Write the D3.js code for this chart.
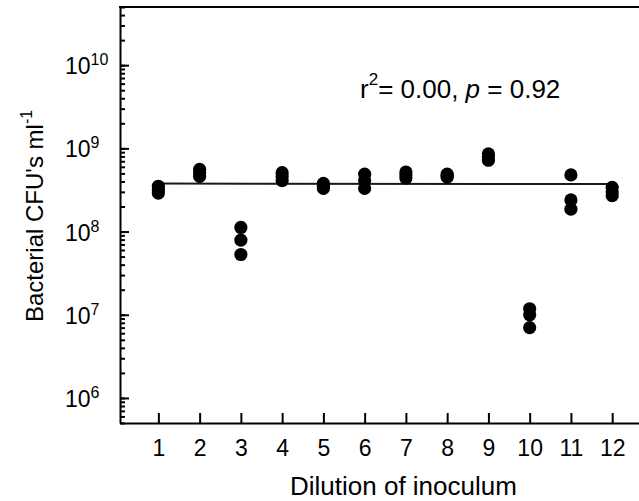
<!DOCTYPE html>
<html>
<head>
<meta charset="utf-8">
<script src="https://cdn.jsdelivr.net/npm/d3@7"></script>
<style>
	body { margin: 0; background: #fff; }
	text { font-family: "Liberation Sans", Arial, sans-serif; fill: #000; }
</style>
</head>
<body>
<div id="chart"></div>
<script>
'use strict';

// dilution steps on the x axis
const dilution = [1, 2, 3, 4, 5, 6, 7, 8, 9, 10, 11, 12];

// three replicate plate counts per dilution (CFU per ml)
const cfu_a = [3.5e8, 5.6e8, 1.12e8, 5.1e8, 3.8e8, 4.9e8, 5.2e8, 4.9e8, 8.6e8, 1.18e7, 4.8e8, 3.4e8];
const cfu_b = [3.2e8, 5.1e8, 7.9e7, 4.6e8, 3.5e8, 4.1e8, 4.8e8, 4.7e8, 7.9e8, 1.0e7, 2.4e8, 3.0e8];
const cfu_c = [2.9e8, 4.6e8, 5.3e7, 4.1e8, 3.3e8, 3.3e8, 4.4e8, 4.5e8, 7.2e8, 7.0e6, 1.86e8, 2.7e8];

// regression line end points
const fit_x = [1, 12];
const fit_y = [3.77e8, 3.72e8];

// y axis decades that get a label
const y_exponents = [6, 7, 8, 9, 10];

const width = 639;
const height = 501;

const margin = {
	top: 7,
	right: 0,
	bottom: 78,
	left: 120 };

window.onload = function()
{
	console.log("hello cfu chart");

	const svg = d3.select("#chart")
		.append("svg")
			.attr("width", width)
			.attr("height", height);

	const x = d3.scaleLinear()
		.domain([0.07, 12.65])
		.range([margin.left, width - margin.right]);

	const y = d3.scaleLog()
		.domain([5e5, 5e10])
		.range([height - margin.bottom, margin.top]);

	// all 1..9 multiples inside the domain for minor ticks
	const minor = [];
	for (let e = 5; e <= 10; e++) {
		for (let m = 1; m < 10; m++) {
			const v = m * Math.pow(10, e);
			if (v >= 5e5 && v <= 5e10) minor.push(v);
		}
	}
	const major = y_exponents.map(e => Math.pow(10, e));

	// minor ticks, pointing into the plot
	svg.append("g")
		.attr("class", "y-minor")
		.attr("transform", `translate(${margin.left},0)`)
		.call(d3.axisLeft(y).tickValues(minor).tickSizeInner(-5).tickSizeOuter(0).tickFormat(""))
		.call(g => g.selectAll("line").attr("stroke", "#000").attr("stroke-width", 2))
		.call(g => g.select(".domain").attr("stroke", "#000").attr("stroke-width", 2));

	// major ticks
	svg.append("g")
		.attr("class", "y-major")
		.attr("transform", `translate(${margin.left},0)`)
		.call(d3.axisLeft(y).tickValues(major).tickSizeInner(-9).tickSizeOuter(0).tickFormat(""))
		.call(g => g.select(".domain").remove())
		.call(g => g.selectAll("line").attr("stroke", "#000").attr("stroke-width", 2));

	// 10^n labels, left aligned like the original
	const ylab = svg.append("g")
		.attr("class", "y-labels")
		.selectAll("text")
		.data(y_exponents)
		.join("text")
			.attr("x", 65)
			.attr("y", d => y(Math.pow(10, d)) + 9)
			.attr("font-size", 23);
	ylab.append("tspan").text("10");
	ylab.append("tspan")
		.attr("font-size", 16)
		.attr("dy", -9)
		.text(d => d);

	// x axis, ticks pointing up
	svg.append("g")
		.attr("class", "x-axis")
		.attr("transform", `translate(0,${height - margin.bottom})`)
		.call(d3.axisBottom(x).tickValues(dilution).tickSizeInner(-10).tickSizeOuter(0).tickPadding(0).tickFormat(d3.format("d")))
		.call(g => g.selectAll("line").attr("stroke", "#000").attr("stroke-width", 2))
		.call(g => g.select(".domain").attr("stroke", "#000").attr("stroke-width", 2))
		.call(g => g.selectAll("text")
			.attr("font-size", 23)
			.attr("fill", "#000")
			.attr("font-family", "Liberation Sans, Arial, sans-serif")
			.attr("dy", null)
			.attr("y", 33));

	// top frame line
	svg.append("line")
		.attr("x1", margin.left - 1)
		.attr("x2", width)
		.attr("y1", margin.top)
		.attr("y2", margin.top)
		.attr("stroke", "#000")
		.attr("stroke-width", 2);

	// regression line
	const line = d3.line()
		.x(d => x(d[0]))
		.y(d => y(d[1]));
	svg.append("path")
		.attr("class", "fit")
		.datum(d3.zip(fit_x, fit_y))
		.attr("d", line)
		.attr("fill", "none")
		.attr("stroke", "#1a1a1a")
		.attr("stroke-width", 2);

	// points
	const points = [];
	[cfu_a, cfu_b, cfu_c].forEach(series => {
		series.forEach((v, idx) => points.push([dilution[idx], v]));
	});
	svg.append("g")
		.attr("class", "points")
		.selectAll("circle")
		.data(points)
		.join("circle")
			.attr("cx", d => x(d[0]))
			.attr("cy", d => y(d[1]))
			.attr("r", 6.6)
			.attr("fill", "#000");

	// statistics text
	const stat = svg.append("text")
		.attr("x", 360)
		.attr("y", 98)
		.attr("font-size", 26);
	stat.append("tspan").text("r");
	stat.append("tspan").attr("font-size", 17).attr("dy", -13).text("2");
	stat.append("tspan").attr("dy", 13).text("= 0.00, ");
	stat.append("tspan").attr("font-style", "italic").text("p");
	stat.append("tspan").text(" = 0.92");

	// axis titles
	svg.append("text")
		.attr("x", 290)
		.attr("y", 495)
		.attr("font-size", 26)
		.text("Dilution of inoculum");

	const ytitle = svg.append("text")
		.attr("transform", "translate(43,322) rotate(-90)")
		.attr("font-size", 24);
	ytitle.append("tspan").text("Bacterial CFU's ml");
	ytitle.append("tspan").attr("font-size", 16).attr("dy", -11).text("-1");
}
</script>
</body>
</html>
